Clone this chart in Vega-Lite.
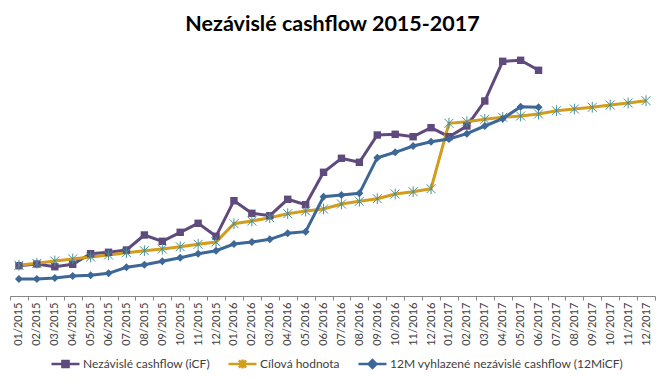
{
  "$schema": "https://vega.github.io/schema/vega-lite/v6.json",
  "width": 645,
  "height": 251,
  "autosize": {"type": "none"},
  "padding": {"left": 10, "top": 45, "right": 11, "bottom": 88},
  "background": "white",
  "title": {"text": "Nezávislé cashflow 2015-2017", "font": "Lato", "fontSize": 21.5, "fontWeight": "bold", "color": "#000000", "anchor": "middle", "baseline": "alphabetic", "offset": 11, "dy": 18},
  "config": {"view": {"stroke": null}},
  "datasets": {
    "d": [
      {"m": "01/2015", "s": "Nezávislé cashflow (iCF)", "v": 30.3},
      {"m": "02/2015", "s": "Nezávislé cashflow (iCF)", "v": 32},
      {"m": "03/2015", "s": "Nezávislé cashflow (iCF)", "v": 29.3},
      {"m": "04/2015", "s": "Nezávislé cashflow (iCF)", "v": 31.7},
      {"m": "05/2015", "s": "Nezávislé cashflow (iCF)", "v": 42.3},
      {"m": "06/2015", "s": "Nezávislé cashflow (iCF)", "v": 43.7},
      {"m": "07/2015", "s": "Nezávislé cashflow (iCF)", "v": 46},
      {"m": "08/2015", "s": "Nezávislé cashflow (iCF)", "v": 61},
      {"m": "09/2015", "s": "Nezávislé cashflow (iCF)", "v": 54.7},
      {"m": "10/2015", "s": "Nezávislé cashflow (iCF)", "v": 63.7},
      {"m": "11/2015", "s": "Nezávislé cashflow (iCF)", "v": 72.7},
      {"m": "12/2015", "s": "Nezávislé cashflow (iCF)", "v": 59.7},
      {"m": "01/2016", "s": "Nezávislé cashflow (iCF)", "v": 95.3},
      {"m": "02/2016", "s": "Nezávislé cashflow (iCF)", "v": 82.7},
      {"m": "03/2016", "s": "Nezávislé cashflow (iCF)", "v": 80.3},
      {"m": "04/2016", "s": "Nezávislé cashflow (iCF)", "v": 96.7},
      {"m": "05/2016", "s": "Nezávislé cashflow (iCF)", "v": 91.3},
      {"m": "06/2016", "s": "Nezávislé cashflow (iCF)", "v": 123.7},
      {"m": "07/2016", "s": "Nezávislé cashflow (iCF)", "v": 137.7},
      {"m": "08/2016", "s": "Nezávislé cashflow (iCF)", "v": 133.7},
      {"m": "09/2016", "s": "Nezávislé cashflow (iCF)", "v": 161},
      {"m": "10/2016", "s": "Nezávislé cashflow (iCF)", "v": 161.7},
      {"m": "11/2016", "s": "Nezávislé cashflow (iCF)", "v": 159.3},
      {"m": "12/2016", "s": "Nezávislé cashflow (iCF)", "v": 168.3},
      {"m": "01/2017", "s": "Nezávislé cashflow (iCF)", "v": 159.3},
      {"m": "02/2017", "s": "Nezávislé cashflow (iCF)", "v": 170},
      {"m": "03/2017", "s": "Nezávislé cashflow (iCF)", "v": 195},
      {"m": "04/2017", "s": "Nezávislé cashflow (iCF)", "v": 234.7},
      {"m": "05/2017", "s": "Nezávislé cashflow (iCF)", "v": 235.7},
      {"m": "06/2017", "s": "Nezávislé cashflow (iCF)", "v": 225.7},
      {"m": "01/2015", "s": "Cílová hodnota", "v": 30.7},
      {"m": "02/2015", "s": "Cílová hodnota", "v": 32.7},
      {"m": "03/2015", "s": "Cílová hodnota", "v": 35},
      {"m": "04/2015", "s": "Cílová hodnota", "v": 37},
      {"m": "05/2015", "s": "Cílová hodnota", "v": 39},
      {"m": "06/2015", "s": "Cílová hodnota", "v": 41},
      {"m": "07/2015", "s": "Cílová hodnota", "v": 43.3},
      {"m": "08/2015", "s": "Cílová hodnota", "v": 45.3},
      {"m": "09/2015", "s": "Cílová hodnota", "v": 47},
      {"m": "10/2015", "s": "Cílová hodnota", "v": 49.3},
      {"m": "11/2015", "s": "Cílová hodnota", "v": 51.7},
      {"m": "12/2015", "s": "Cílová hodnota", "v": 54},
      {"m": "01/2016", "s": "Cílová hodnota", "v": 72.3},
      {"m": "02/2016", "s": "Cílová hodnota", "v": 75},
      {"m": "03/2016", "s": "Cílová hodnota", "v": 78.3},
      {"m": "04/2016", "s": "Cílová hodnota", "v": 82.3},
      {"m": "05/2016", "s": "Cílová hodnota", "v": 85},
      {"m": "06/2016", "s": "Cílová hodnota", "v": 87},
      {"m": "07/2016", "s": "Cílová hodnota", "v": 92},
      {"m": "08/2016", "s": "Cílová hodnota", "v": 94.7},
      {"m": "09/2016", "s": "Cílová hodnota", "v": 97.3},
      {"m": "10/2016", "s": "Cílová hodnota", "v": 102},
      {"m": "11/2016", "s": "Cílová hodnota", "v": 104.3},
      {"m": "12/2016", "s": "Cílová hodnota", "v": 107.3},
      {"m": "01/2017", "s": "Cílová hodnota", "v": 172.7},
      {"m": "02/2017", "s": "Cílová hodnota", "v": 174.3},
      {"m": "03/2017", "s": "Cílová hodnota", "v": 176.7},
      {"m": "04/2017", "s": "Cílová hodnota", "v": 178.7},
      {"m": "05/2017", "s": "Cílová hodnota", "v": 180},
      {"m": "06/2017", "s": "Cílová hodnota", "v": 182},
      {"m": "07/2017", "s": "Cílová hodnota", "v": 185.3},
      {"m": "08/2017", "s": "Cílová hodnota", "v": 187},
      {"m": "09/2017", "s": "Cílová hodnota", "v": 188.7},
      {"m": "10/2017", "s": "Cílová hodnota", "v": 191},
      {"m": "11/2017", "s": "Cílová hodnota", "v": 193},
      {"m": "12/2017", "s": "Cílová hodnota", "v": 195.3},
      {"m": "01/2015", "s": "12M vyhlazené nezávislé cashflow (12MiCF)", "v": 17},
      {"m": "02/2015", "s": "12M vyhlazené nezávislé cashflow (12MiCF)", "v": 17},
      {"m": "03/2015", "s": "12M vyhlazené nezávislé cashflow (12MiCF)", "v": 18},
      {"m": "04/2015", "s": "12M vyhlazené nezávislé cashflow (12MiCF)", "v": 20},
      {"m": "05/2015", "s": "12M vyhlazené nezávislé cashflow (12MiCF)", "v": 20.7},
      {"m": "06/2015", "s": "12M vyhlazené nezávislé cashflow (12MiCF)", "v": 22.7},
      {"m": "07/2015", "s": "12M vyhlazené nezávislé cashflow (12MiCF)", "v": 28.7},
      {"m": "08/2015", "s": "12M vyhlazené nezávislé cashflow (12MiCF)", "v": 31.3},
      {"m": "09/2015", "s": "12M vyhlazené nezávislé cashflow (12MiCF)", "v": 34.7},
      {"m": "10/2015", "s": "12M vyhlazené nezávislé cashflow (12MiCF)", "v": 38.3},
      {"m": "11/2015", "s": "12M vyhlazené nezávislé cashflow (12MiCF)", "v": 42.3},
      {"m": "12/2015", "s": "12M vyhlazené nezávislé cashflow (12MiCF)", "v": 45.3},
      {"m": "01/2016", "s": "12M vyhlazené nezávislé cashflow (12MiCF)", "v": 52},
      {"m": "02/2016", "s": "12M vyhlazené nezávislé cashflow (12MiCF)", "v": 54},
      {"m": "03/2016", "s": "12M vyhlazené nezávislé cashflow (12MiCF)", "v": 56.7},
      {"m": "04/2016", "s": "12M vyhlazené nezávislé cashflow (12MiCF)", "v": 62.7},
      {"m": "05/2016", "s": "12M vyhlazené nezávislé cashflow (12MiCF)", "v": 64.3},
      {"m": "06/2016", "s": "12M vyhlazené nezávislé cashflow (12MiCF)", "v": 99.3},
      {"m": "07/2016", "s": "12M vyhlazené nezávislé cashflow (12MiCF)", "v": 101},
      {"m": "08/2016", "s": "12M vyhlazené nezávislé cashflow (12MiCF)", "v": 102.7},
      {"m": "09/2016", "s": "12M vyhlazené nezávislé cashflow (12MiCF)", "v": 138.3},
      {"m": "10/2016", "s": "12M vyhlazené nezávislé cashflow (12MiCF)", "v": 143.7},
      {"m": "11/2016", "s": "12M vyhlazené nezávislé cashflow (12MiCF)", "v": 150},
      {"m": "12/2016", "s": "12M vyhlazené nezávislé cashflow (12MiCF)", "v": 154.3},
      {"m": "01/2017", "s": "12M vyhlazené nezávislé cashflow (12MiCF)", "v": 157},
      {"m": "02/2017", "s": "12M vyhlazené nezávislé cashflow (12MiCF)", "v": 162.3},
      {"m": "03/2017", "s": "12M vyhlazené nezávislé cashflow (12MiCF)", "v": 170},
      {"m": "04/2017", "s": "12M vyhlazené nezávislé cashflow (12MiCF)", "v": 177.3},
      {"m": "05/2017", "s": "12M vyhlazené nezávislé cashflow (12MiCF)", "v": 189.3},
      {"m": "06/2017", "s": "12M vyhlazené nezávislé cashflow (12MiCF)", "v": 188.7}
    ]
  },
  "data": {"name": "d"},
  "encoding": {
    "x": {
      "field": "m", "type": "ordinal", "sort": null, "bandPosition": 0.5,
      "scale": {"type": "band", "paddingInner": 0, "paddingOuter": 0},
      "axis": {
        "title": null, "tickBand": "extent", "labelAngle": 270, "labelAlign": "right", "labelBaseline": "middle",
        "labelFont": "Lato", "labelFontSize": 11, "labelColor": "#404040", "labelPadding": 2,
        "tickSize": 4, "tickColor": "#868686", "domainColor": "#868686", "grid": false, "labelOverlap": false
      }
    },
    "y": {"field": "v", "type": "quantitative", "scale": {"domain": [0, 251], "nice": false, "zero": true}, "axis": null}
  },
  "layer": [
    {
      "mark": {"type": "line", "strokeWidth": 3},
      "encoding": {
        "color": {
          "field": "s", "type": "nominal",
          "scale": {"domain": ["Nezávislé cashflow (iCF)", "Cílová hodnota", "12M vyhlazené nezávislé cashflow (12MiCF)"], "range": ["#5F4A7E", "#D29C1C", "#3C6797"]},
          "legend": {
            "title": null, "orient": "none", "legendX": 40, "legendY": 303.5, "direction": "horizontal", "padding": 0,
            "symbolSize": 784, "symbolStrokeWidth": 2.5, "labelFont": "Lato", "labelFontSize": 12, "labelColor": "#404040",
            "labelOffset": 2, "columnPadding": 13, "labelLimit": 400, "gridAlign": "none",
            "encode": {"symbols": {"update": {
              "shape": {"signal": "datum.index === 0 ? 'M-1,0H1M-0.22,-0.22H0.22V0.22H-0.22Z' : datum.index === 1 ? 'M-1,0H1M-0.26,-0.26L0.26,0.26M-0.26,0.26L0.26,-0.26M0,-0.32V0.32' : 'M-1,0H1M0,-0.28L0.28,0L0,0.28L-0.28,0Z'"},
              "fill": {"scale": "color", "field": "value"},
              "fillOpacity": {"value": 1},
              "stroke": {"scale": "color", "field": "value"}
            }}}
          }
        }
      }
    },
    {
      "transform": [{"filter": "datum.s === 'Nezávislé cashflow (iCF)'"}],
      "mark": {"type": "point", "shape": "square", "filled": true, "size": 55, "color": "#5F4A7E", "opacity": 1}
    },
    {
      "transform": [{"filter": "datum.s === 'Cílová hodnota'"}],
      "mark": {"type": "point", "shape": "M-1,-1L1,1M-1,1L1,-1M0,-1.2L0,1.2", "filled": false, "size": 80, "stroke": "#4A9095", "strokeWidth": 1, "opacity": 1}
    },
    {
      "transform": [{"filter": "datum.s === '12M vyhlazené nezávislé cashflow (12MiCF)'"}],
      "mark": {"type": "point", "shape": "diamond", "filled": true, "size": 64, "color": "#3C6797", "opacity": 1}
    }
  ]
}
